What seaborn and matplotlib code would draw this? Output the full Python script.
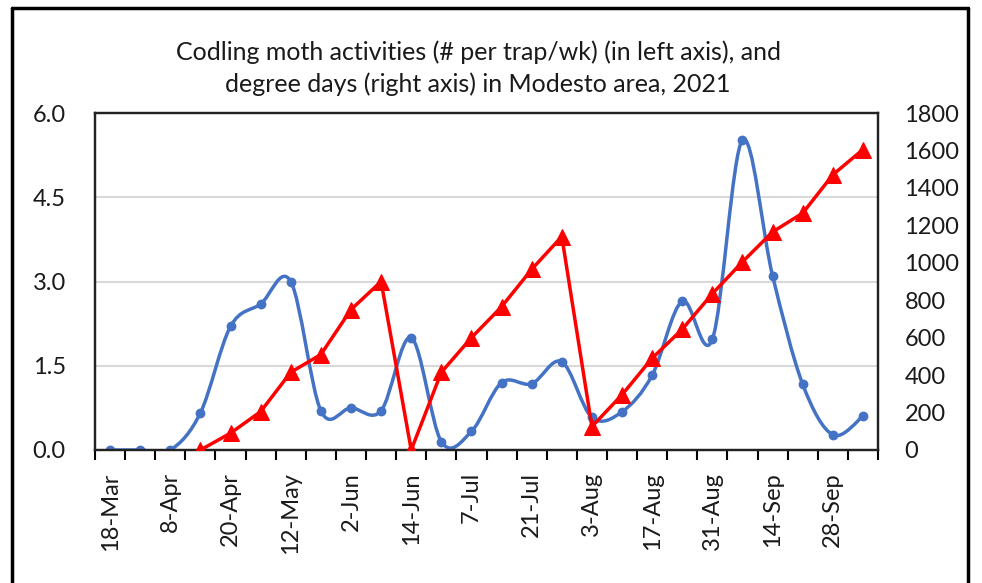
import numpy as np
import matplotlib
matplotlib.use("Agg")
import matplotlib.pyplot as plt
from matplotlib.path import Path
from matplotlib.patches import PathPatch
from matplotlib.lines import Line2D
import seaborn as sns
import pandas as pd

# ---- data ----
tick_labels = ["18-Mar", "8-Apr", "20-Apr", "12-May", "2-Jun", "14-Jun", "7-Jul",
               "21-Jul", "3-Aug", "17-Aug", "31-Aug", "14-Sep", "28-Sep"]
n_weeks = 26
moth = [0.0, 0.0, 0.0, 0.66, 2.2, 2.6, 3.0, 0.7, 0.75, 0.7, 2.0, 0.15, 0.33,
        1.2, 1.18, 1.57, 0.58, 0.68, 1.33, 2.65, 1.97, 5.52, 3.1, 1.17, 0.27, 0.6]
dd_start = 3
degree_days = [0, 90, 205, 415, 510, 750, 900, 0, 415, 600, 765, 965, 1140,
               125, 295, 490, 645, 835, 1005, 1165, 1265, 1470, 1605]

title = ("Codling moth activities (# per trap/wk) (in left axis), and\n"
         "degree days (right axis) in Modesto area, 2021")

blue = "#4472C4"
red = "#FF0000"

sns.set_style("white")
plt.rcParams["font.family"] = ["Lato", "DejaVu Sans"]

W, H = 982, 583
fig = plt.figure(figsize=(W / 100, H / 100), dpi=100)
ax = fig.add_axes([95 / W, 1 - 450 / H, (878 - 95) / W, (450 - 113) / H])

x_m = np.arange(n_weeks)
df_m = pd.DataFrame({"week": x_m, "moth": moth})
x_d = np.arange(dd_start, dd_start + len(degree_days))
df_d = pd.DataFrame({"week": x_d, "dd": degree_days})

# smooth (Excel-style Bezier) curve for moth series
pts = np.column_stack([x_m, moth]).astype(float)
verts = [tuple(pts[0])]
codes = [Path.MOVETO]
for i in range(len(pts) - 1):
    p0 = pts[i - 1] if i > 0 else pts[i]
    p1 = pts[i]
    p2 = pts[i + 1]
    p3 = pts[i + 2] if i + 2 < len(pts) else pts[i + 1]
    c1 = p1 + (p2 - p0) / 6.0
    c2 = p2 - (p3 - p1) / 6.0
    verts += [tuple(c1), tuple(c2), tuple(p2)]
    codes += [Path.CURVE4] * 3
ax.add_patch(PathPatch(Path(verts, codes), facecolor="none", edgecolor=blue,
                       lw=2.5, zorder=3, capstyle="round", joinstyle="round"))
sns.scatterplot(data=df_m, x="week", y="moth", ax=ax, color=blue, s=50,
                edgecolor=blue, linewidth=0, zorder=4, legend=False)

ax.set_xlim(-0.5, n_weeks - 0.5)
ax.set_ylim(0, 6)
ax.set_yticks([0, 1.5, 3.0, 4.5, 6.0])
ax.set_yticklabels(["0.0", "1.5", "3.0", "4.5", "6.0"])
ax.set_xticks(np.arange(0, n_weeks, 2))
ax.set_xticklabels(tick_labels, rotation=90)
ax.set_xticks(np.arange(-0.5, n_weeks, 1), minor=True)
ax.tick_params(axis="x", which="major", length=0, pad=16, labelsize=17,
               labelcolor="#1a1a1a")
ax.tick_params(axis="x", which="minor", length=7, width=1.5, color="black",
               direction="out", bottom=True)
ax.tick_params(axis="y", length=0, pad=21, labelsize=17, labelcolor="#1a1a1a")
ax.grid(axis="y", color="#d9d9d9", lw=1.5)
ax.set_axisbelow(True)
ax.set_xlabel("")
ax.set_ylabel("")
for s in ax.spines.values():
    s.set_visible(True)
    s.set_color("#222222")
    s.set_linewidth(1.6)

ax2 = ax.twinx()
sns.lineplot(data=df_d, x="week", y="dd", ax=ax2, color=red, lw=2.5,
             marker="^", markersize=11, markeredgecolor=red, zorder=5)
ax2.set_ylim(0, 1800)
ax2.set_yticks(np.arange(0, 1801, 200))
ax2.set_yticklabels([str(v) for v in range(0, 1801, 200)])
ax2.tick_params(axis="y", length=0, pad=19, labelsize=17, labelcolor="#1a1a1a")
ax2.set_ylabel("")
ax2.set_xlabel("")
ax2.grid(False)
ax2.set_xlim(-0.5, n_weeks - 0.5)
for s in ax2.spines.values():
    s.set_color("#222222")
    s.set_linewidth(1.6)

fig.text(478 / W, 1 - 68 / H, title, ha="center", va="center", fontsize=18,
         linespacing=1.45, color="#1a1a1a")

# outer frame of the screenshot
lw = 2.5
fig.add_artist(Line2D([12 / W, 12 / W], [0, 1 - 8 / H], transform=fig.transFigure,
                      color="black", lw=lw))
fig.add_artist(Line2D([968 / W, 968 / W], [0, 1 - 8 / H], transform=fig.transFigure,
                      color="black", lw=lw))
fig.add_artist(Line2D([12 / W, 968 / W], [1 - 8 / H, 1 - 8 / H], transform=fig.transFigure,
                      color="black", lw=lw))

fig.savefig("out.png", dpi=100)
